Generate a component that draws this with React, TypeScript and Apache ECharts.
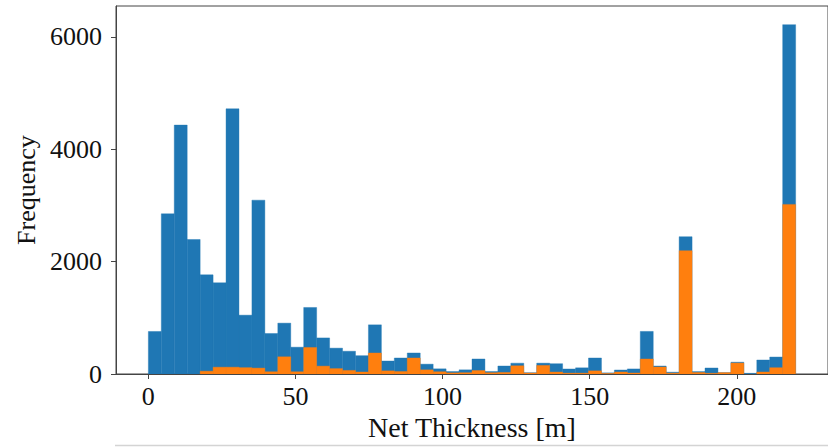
import React, { useEffect, useRef } from "react";
import * as echarts from "echarts";

// Histogram bins: 50 bins of width 4.4 m spanning 0 – 220 m
const BIN_COUNT = 50;
const BIN_WIDTH = 4.4;
const binEdges: number[] = Array.from({ length: BIN_COUNT + 1 }, (_, i) => +(i * BIN_WIDTH).toFixed(2));

// Frequencies (blue = all data, orange = subset)
const blueCounts: number[] = [
  757, 2851, 4430, 2394, 1765, 1623, 4720, 1047, 3094, 721,
  905, 477, 1184, 642, 460, 405, 326, 875, 231, 285,
  374, 175, 92, 44, 74, 267, 44, 142, 193, 23,
  193, 183, 89, 110, 285, 20, 71, 90, 758, 142,
  32, 2444, 43, 107, 24, 210, 12, 249, 302, 6218,
];
const orangeCounts: number[] = [
  0, 0, 0, 0, 50, 121, 121, 113, 105, 40,
  306, 40, 472, 140, 96, 64, 36, 374, 56, 44,
  285, 74, 40, 20, 23, 62, 23, 28, 145, 18,
  153, 35, 15, 15, 56, 10, 36, 18, 267, 125,
  15, 2195, 27, 12, 24, 195, 0, 36, 112, 3019,
];

const xTickValues = [0, 50, 100, 150, 200];
const yTickValues = [0, 2000, 4000, 6000];

const BLUE = "#1f77b4";
const ORANGE = "#ff7f0e";
const FONT = "'Liberation Serif', 'DejaVu Serif', serif";

function toData(counts: number[]) {
  return counts.map((c, i) => [binEdges[i], binEdges[i + 1], c]);
}

function makeRender(color: string) {
  return (params: any, api: any) => {
    const x0 = api.value(0);
    const x1 = api.value(1);
    const v = api.value(2);
    if (!v) return null;
    const pTop = api.coord([x0, v]);
    const pBot = api.coord([x1, 0]);
    return {
      type: "rect",
      shape: {
        x: pTop[0],
        y: pTop[1],
        width: pBot[0] - pTop[0],
        height: pBot[1] - pTop[1],
      },
      style: { fill: color, stroke: color, lineWidth: 0.4 },
    };
  };
}

export default function App() {
  const ref = useRef<HTMLDivElement>(null);
  useEffect(() => {
    if (!ref.current) return;
    const chart = echarts.init(ref.current, undefined, { renderer: "svg" });
    chart.setOption({
      animation: false,
      backgroundColor: "#ffffff",
      grid: {
        left: 116,
        top: 6,
        width: 726,
        height: 368,
        show: true,
        borderColor: "#444",
        borderWidth: 1,
        containLabel: false,
      },
      xAxis: {
        type: "value",
        min: -11,
        max: 231,
        name: "Net Thickness [m]",
        nameLocation: "middle",
        nameGap: 39,
        nameTextStyle: { fontFamily: FONT, fontSize: 28, color: "#111" },
        splitLine: { show: false },
        axisLine: { show: true, onZero: false, lineStyle: { color: "#444", width: 1 } },
        axisTick: {
          show: true,
          inside: false,
          length: 5,
          customValues: xTickValues,
          lineStyle: { color: "#444", width: 1 },
        },
        axisLabel: {
          customValues: xTickValues,
          fontFamily: FONT,
          fontSize: 26,
          color: "#111",
          margin: 9,
          formatter: (v: number) => String(v),
        },
      },
      yAxis: {
        type: "value",
        min: 0,
        max: 6550,
        name: "Frequency",
        nameLocation: "middle",
        nameGap: 72,
        nameTextStyle: { fontFamily: FONT, fontSize: 26, color: "#111" },
        splitLine: { show: false },
        axisLine: { show: true, onZero: false, lineStyle: { color: "#444", width: 1 } },
        axisTick: {
          show: true,
          inside: false,
          length: 5,
          customValues: yTickValues,
          lineStyle: { color: "#444", width: 1 },
        },
        axisLabel: {
          customValues: yTickValues,
          fontFamily: FONT,
          fontSize: 26,
          color: "#111",
          margin: 14,
          formatter: (v: number) => String(v),
        },
      },
      series: [
        {
          type: "custom",
          name: "all",
          renderItem: makeRender(BLUE),
          encode: { x: [0, 1], y: 2 },
          data: toData(blueCounts),
          clip: true,
        },
        {
          type: "custom",
          name: "subset",
          renderItem: makeRender(ORANGE),
          encode: { x: [0, 1], y: 2 },
          data: toData(orangeCounts),
          clip: true,
        },
      ],
      graphic: [
        {
          type: "line",
          shape: { x1: 115, y1: 445.5, x2: 828, y2: 445.5 },
          style: { stroke: "#d4d4d4", lineWidth: 1.5 },
        },
      ],
    });
    return () => chart.dispose();
  }, []);
  return (
    <div
      ref={ref}
      style={{ position: "fixed", left: 0, top: 0, width: 828, height: 447, background: "#fff" }}
    />
  );
}
